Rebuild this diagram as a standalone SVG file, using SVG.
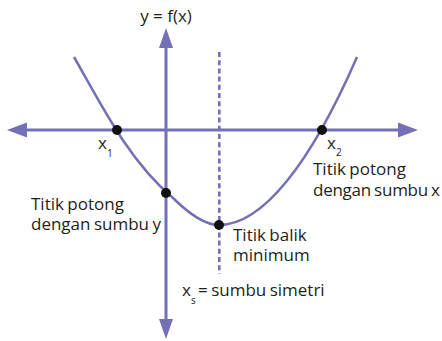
<svg xmlns="http://www.w3.org/2000/svg" width="442" height="341" viewBox="0 0 442 341">
<style>
.ax{stroke:#7370b6;stroke-width:3;fill:none}
.ah{fill:#7370b6}
.cv{stroke:#7370b6;stroke-width:2.5;fill:none}
.ds{stroke:#7370b6;stroke-width:2.6;fill:none;stroke-dasharray:5 3.2}
.dot{fill:#111}
text{font-family:"Open Sans","Liberation Sans",sans-serif;font-size:17px;fill:#231f20;word-spacing:-1px}
.sub{font-size:10px}
.eq{word-spacing:0}
</style>
<rect width="442" height="341" fill="#fff"/>
<g id="connectors">
<line class="ax" x1="166" y1="45" x2="166" y2="321"/>
<polygon class="ah" points="166,28 159,48 173,48"/>
<polygon class="ah" points="166,339 159,319 173,319"/>
<line class="ax" x1="24" y1="130" x2="402" y2="130"/>
<polygon class="ah" points="7,130 27,122.5 27,137.5"/>
<polygon class="ah" points="418,130 398,122.5 398,137.5"/>
<line class="ds" x1="219.3" y1="52" x2="219.3" y2="274"/>
<path class="cv" d="M74,57 C100,102 128,160 172,197 C190,215 205,225 219,225 C262,225 310,165 357,57"/>
</g>
<g id="label-y"><text class="eq" x="166" y="22" text-anchor="middle">y = f(x)</text></g>
<g id="x1"><circle class="dot" cx="117" cy="130" r="5"/><text x="98" y="149">x</text><text class="sub" x="107" y="157">1</text></g>
<g id="x2"><circle class="dot" cx="322" cy="130" r="5"/><text x="327" y="149">x</text><text class="sub" x="336" y="156">2</text>
<text x="313" y="175">Titik potong</text><text x="313" y="196" textLength="127" lengthAdjust="spacing">dengan sumbu x</text></g>
<g id="y-intercept"><circle class="dot" cx="166" cy="193" r="5"/><text x="31" y="210">Titik potong</text><text x="31" y="230">dengan sumbu y</text></g>
<g id="vertex"><circle class="dot" cx="219" cy="225" r="5"/><text x="233" y="241">Titik balik</text><text x="233" y="261">minimum</text></g>
<g id="axis-sym"><text x="182" y="296">x</text><text class="sub" x="191" y="304">s</text><text x="198" y="296">= sumbu simetri</text></g>
</svg>
